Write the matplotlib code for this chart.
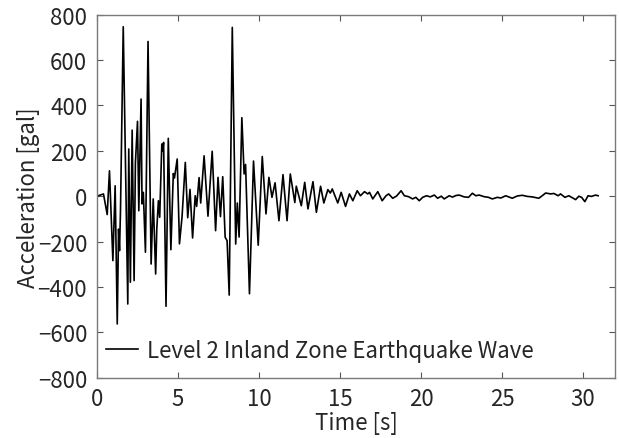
import numpy as np
import matplotlib
matplotlib.use('Agg')
import matplotlib.pyplot as plt

plt.rcParams['font.family'] = ['Noto Sans CJK JP', 'DejaVu Sans']

# 地震波 (読み取り値)
time_s = [0.00, 0.40, 0.63, 0.77, 0.98, 1.12, 1.25, 1.33, 1.39, 1.45,
          1.62, 1.90, 1.96, 2.06, 2.17, 2.29, 2.37, 2.50, 2.58, 2.72,
          2.78, 2.86, 2.99, 3.15, 3.34, 3.47, 3.62, 3.69, 3.79, 3.87,
          4.00, 4.05, 4.11, 4.26, 4.40, 4.56, 4.71, 4.78, 4.95, 5.09,
          5.25, 5.45, 5.60, 5.74, 5.90, 6.06, 6.15, 6.30, 6.40, 6.61,
          6.85, 7.11, 7.32, 7.47, 7.62, 7.76, 7.91, 8.03, 8.16, 8.35,
          8.56, 8.66, 8.77, 8.94, 9.08, 9.17, 9.41, 9.66, 9.95, 10.20,
          10.43, 10.61, 10.80, 10.99, 11.23, 11.48, 11.73, 11.93, 12.21, 12.30,
          12.61, 12.82, 13.02, 13.33, 13.54, 13.80, 14.00, 14.25, 14.40, 14.52,
          14.86, 15.07, 15.34, 15.58, 15.79, 16.06, 16.26, 16.51, 16.71, 16.82,
          17.02, 17.33, 17.60, 17.84, 18.00, 18.25, 18.48, 18.77, 18.97, 19.23,
          19.48, 19.68, 19.89, 20.10, 20.34, 20.57, 20.82, 21.02, 21.25, 21.43,
          21.74, 21.94, 22.15, 22.35, 22.66, 22.93, 23.17, 23.38, 23.58, 23.89,
          24.16, 24.40, 24.71, 24.92, 25.23, 25.33, 25.63, 25.94, 26.25, 26.56,
          26.86, 27.27, 27.48, 27.69, 28.00, 28.20, 28.46, 28.61, 28.88, 29.12,
          29.54, 29.74, 29.91, 30.11, 30.31, 30.52, 30.77, 30.93]
accel_gal = [0, 10, -81, 112, -284, 46, -563, -145, -240, -64,
             747, -475, 208, -379, 291, -372, 145, 330, -64, 428,
             -34, 17, -247, 682, -299, -12, -343, -145, -20, -93,
             230, 200, 237, -485, 255, -236, 100, 80, 164, -210,
             -90, 149, -95, 30, -184, 2, -45, 82, -30, 178,
             -88, 198, -152, 83, -90, 86, -181, -196, -436, 744,
             -211, -30, -180, 346, 98, 140, -430, 155, -216, 175,
             -78, 83, -5, 59, -108, 95, -108, 98, -28, 44,
             -42, 61, -56, 64, -71, 44, -30, 29, 14, 32,
             -30, 17, -45, 10, -20, 24, 2, 20, 10, 17,
             -12, 20, -20, 2, 10, -9, 0, 24, 2, -2,
             -12, -5, -20, -5, 2, -3, 5, -9, 0, -12,
             2, -4, 3, 5, -3, -5, 13, 2, 5, -2,
             -5, -12, -5, -8, 2, -1, -9, 1, 4, -1,
             -3, -9, 2, 14, 10, 12, 2, 10, -5, 2,
             -15, 0, -5, -24, 2, -1, 5, 2]

x_ticks = [0, 5, 10, 15, 20, 25, 30]
y_ticks = [-800, -600, -400, -200, 0, 200, 400, 600, 800]

fig = plt.figure(figsize=(6.19, 4.39), dpi=100)
ax = fig.add_axes([0.1567, 0.1374, 0.8376, 0.8268])

ax.plot(time_s, accel_gal, color='black', linewidth=1.2,
        label='Level 2 Inland Zone Earthquake Wave')

ax.set_xlim(0, 32)
ax.set_ylim(-800, 800)
ax.set_xticks(x_ticks)
ax.set_yticks(y_ticks)

# MATLAB風の軸
for s in ax.spines.values():
    s.set_color('#7a7a7a')
    s.set_linewidth(1.0)
ax.tick_params(direction='in', length=4, width=0.8, color='#555555',
               top=True, right=True, labelsize=16, labelcolor='#262626', pad=7)

ax.set_xlabel('Time [s]', fontsize=16, color='#262626')
ax.set_ylabel('Acceleration [gal]', fontsize=16, color='#262626')
ax.xaxis.set_label_coords(0.5, -0.092)
ax.yaxis.set_label_coords(-0.11, 0.5)

leg = ax.legend(loc='lower left', bbox_to_anchor=(0.0, 0.02), frameon=False,
                fontsize=16, handlelength=1.45, handletextpad=0.4,
                borderaxespad=0.0, borderpad=0.4)
for t in leg.get_texts():
    t.set_color('#262626')

fig.savefig('out.png', dpi=100, facecolor='white')
